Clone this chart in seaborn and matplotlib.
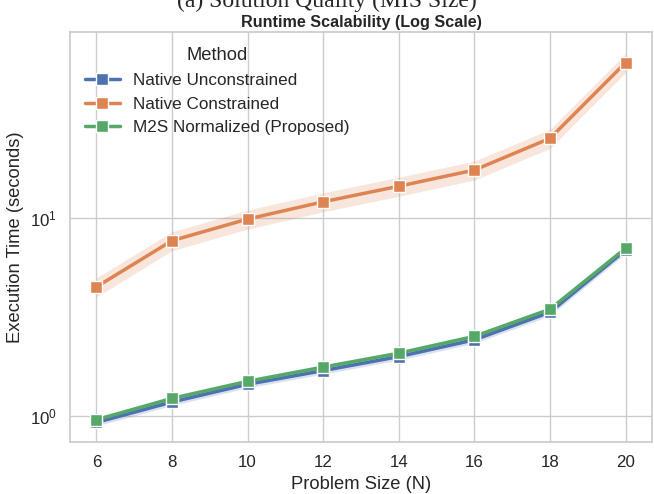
import numpy as np
import pandas as pd
import seaborn as sns
import matplotlib.pyplot as plt

# Problem sizes and mean runtimes (seconds)
sizes = [6, 8, 10, 12, 14, 16, 18, 20]
methods = ["Native Unconstrained", "Native Constrained", "M2S Normalized (Proposed)"]
unconstrained = [0.93, 1.18, 1.45, 1.70, 2.00, 2.43, 3.35, 6.90]
constrained = [4.5, 7.7, 9.9, 12.1, 14.5, 17.5, 25.3, 61.0]
m2s = [0.96, 1.23, 1.50, 1.77, 2.08, 2.53, 3.47, 7.05]
# relative half-width of the shaded bands
band_rel = [0.04, 0.11, 0.03]

sns.set_theme(style="whitegrid")
plt.rcParams["font.family"] = ["Liberation Sans", "DejaVu Sans"]

df = pd.DataFrame({
    "N": sizes * 3,
    "Time": unconstrained + constrained + m2s,
    "Method": [m for m in methods for _ in sizes],
})

fig, ax = plt.subplots(figsize=(6.54, 4.94), dpi=100)
palette = sns.color_palette("deep", 3)

sns.lineplot(data=df, x="N", y="Time", hue="Method", hue_order=methods,
             palette=palette, marker="s", markersize=8.5, markeredgecolor="white",
             markeredgewidth=1, linewidth=2.5, ax=ax)

for vals, rel, col in zip([unconstrained, constrained, m2s], band_rel, palette):
    v = np.array(vals)
    ax.fill_between(sizes, v * (1 - rel), v * (1 + rel), color=col, alpha=0.2, linewidth=0)

ax.set_yscale("log")
ax.set_ylim(0.74, 87)
ax.set_xticks(sizes)
ax.set_xlabel("Problem Size (N)", fontsize=13.2)
ax.set_ylabel("Execution Time (seconds)", fontsize=13.2)
ax.tick_params(labelsize=12.2)
ax.set_title("Runtime Scalability (Log Scale)", fontsize=11.6, fontweight="bold", pad=4)
ax.grid(True, which="major")
ax.grid(False, which="minor")

leg = ax.legend(title="Method", loc="upper left", frameon=False, fontsize=12.3,
                title_fontsize=13.2)

fig.text(0.5, 1.0 - 1 / 494, "(a) Solution Quality (MIS Size)", ha="center", va="center",
         fontsize=17, family="Liberation Serif")

fig.subplots_adjust(left=0.107, right=0.997, top=0.935, bottom=0.105)
fig.savefig("out.png", dpi=100)
